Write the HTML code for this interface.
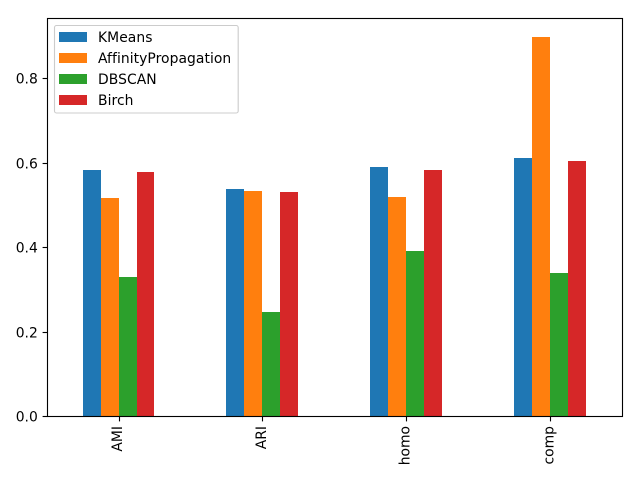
<!DOCTYPE html>
<html>
<head>
<meta charset="utf-8">
<style>
html,body{margin:0;padding:0;background:#fff;width:640px;height:480px;overflow:hidden}
svg{display:block}
text{font-family:"DejaVu Sans","Liberation Sans",sans-serif;font-size:13.89px;fill:#000}
.legend-text{letter-spacing:0.06px}
</style>
</head>
<body>
<svg id="chart" xmlns="http://www.w3.org/2000/svg" width="640" height="480" viewBox="0 0 640 480"></svg>
<script>
const categories = ["AMI", "ARI", "homo", "comp"];
const seriesNames = ["KMeans", "AffinityPropagation", "DBSCAN", "Birch"];
const seriesColors = ["#1f77b4", "#ff7f0e", "#2ca02c", "#d62728"];
const kmeansValues = [0.583, 0.538, 0.590, 0.611];
const affinityValues = [0.517, 0.533, 0.519, 0.897];
const dbscanValues = [0.330, 0.247, 0.391, 0.339];
const birchValues = [0.578, 0.531, 0.583, 0.604];
const yTickLabels = ["0.0", "0.2", "0.4", "0.6", "0.8"];

const seriesValues = [kmeansValues, affinityValues, dbscanValues, birchValues];
const NS = "http://www.w3.org/2000/svg";
const svg = document.getElementById("chart");
const plot = {left: 46.75, right: 621.55, top: 18.5, bottom: 416.3};
const yMax = Math.max(...seriesValues.flat()) * 1.05;
const xScale = v => plot.left + (v + 0.5) / categories.length * (plot.right - plot.left);
const yScale = v => plot.bottom - v / yMax * (plot.bottom - plot.top);
const barWidth = 0.125;

function make(tag, attrs, parent) {
  const el = document.createElementNS(NS, tag);
  for (const k in attrs) el.setAttribute(k, attrs[k]);
  (parent || svg).appendChild(el);
  return el;
}

// bars
categories.forEach((cat, c) => {
  seriesValues.forEach((vals, s) => {
    const x0 = Math.round(xScale(c + (s - 2) * barWidth));
    const x1 = Math.round(xScale(c + (s - 1) * barWidth) - 0.05);
    const y = Math.round(yScale(vals[c]));
    const bar = make("rect", {x: x0, y: y, width: x1 - x0, height: 416 - y, fill: seriesColors[s], "shape-rendering": "crispEdges"});
    
    
  });
});

// y ticks
yTickLabels.forEach(label => {
  const v = parseFloat(label);
  const y = Math.round(yScale(v)) + 0.5;
  const tick = make("line", {x1: 42.6, x2: 47.5, y1: y, y2: y, stroke: "#000", "stroke-width": 1.11});
  
  
  const t = make("text", {x: 37.8, y: y + 5, "text-anchor": "end"});
  t.textContent = label;
  
  
});

// x ticks
categories.forEach((cat, c) => {
  const x = Math.round(xScale(c) + 0.15) + 0.5;
  const tick = make("line", {x1: x, x2: x, y1: 416.5, y2: 421.4, stroke: "#000", "stroke-width": 1.11});
  
  
  const t = make("text", {transform: "translate(" + (xScale(c) + 3.6) + ",426) rotate(-90)", "text-anchor": "end"});
  t.textContent = cat;
  
  
});

// axes frame
const frame = make("rect", {x: 47.5, y: 18.5, width: 575, height: 398, fill: "none", stroke: "#000", "stroke-width": 1.11});



// legend
const legend = make("g", {});


const legendBox = make("rect", {x: 54.5, y: 25.5, width: 183.7, height: 87.5, rx: 2, ry: 2, fill: "#fff", "fill-opacity": 0.8, stroke: "#ccc", "stroke-width": 1.11}, legend);


seriesNames.forEach((name, s) => {
  const patchY = 32 + s * 21;
  const patch = make("rect", {x: 59, y: patchY, width: 28, height: 10, fill: seriesColors[s], "shape-rendering": "crispEdges"}, legend);
  
  
  const label = make("text", {x: 98, y: patchY + 10, class: "legend-text"}, legend);
  label.textContent = name;
  
  
});
</script>
</body>
</html>
